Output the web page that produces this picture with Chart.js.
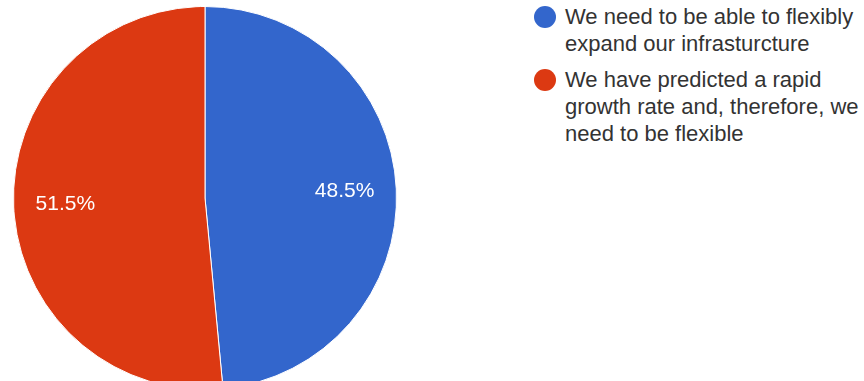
<!DOCTYPE html>
<html>
<head>
<meta charset="utf-8">
<script src="https://cdn.jsdelivr.net/npm/chart.js@4.4.0/dist/chart.umd.min.js"></script>
<style>
  html, body { margin: 0; padding: 0; background: #fff; overflow: hidden; }
  body { width: 864px; height: 381px; position: relative; font-family: "Liberation Sans", Arial, sans-serif; }
  #pieBox { position: absolute; left: 13px; top: 6px; width: 384px; height: 384px; }
  #legend { position: absolute; left: 534px; top: 0; }
  .item { position: absolute; left: 0; white-space: nowrap; }
  .dot { position: absolute; left: 0; width: 22px; height: 22px; border-radius: 50%; }
  .txt { position: absolute; left: 31px; font-size: 22px; line-height: 27px; color: #333; }
</style>
</head>
<body>
<div id="pieBox"><canvas id="pieChart" width="384" height="384"></canvas></div>
<div id="legend"></div>
<script>
// Pie chart
const labels = [
  ['We need to be able to flexibly', 'expand our infrasturcture'],
  ['We have predicted a rapid', 'growth rate and, therefore, we', 'need to be flexible']
];
const shares = [48.5, 51.5];
const colours = ['#3366cc', '#dc3912'];

// percentage text inside each slice
const sliceLabels = {
  id: 'sliceLabels',
  afterDatasetsDraw(chart) {
    const ctx = chart.ctx;
    const meta = chart.getDatasetMeta(0);
    const values = chart.data.datasets[0].data;
    const total = values.reduce((a, b) => a + b, 0);
    ctx.save();
    ctx.fillStyle = '#ffffff';
    ctx.font = '21px "Liberation Sans", Arial, sans-serif';
    ctx.textAlign = 'center';
    ctx.textBaseline = 'middle';
    meta.data.forEach((arc, i) => {
      const p = arc.getProps(['x', 'y', 'startAngle', 'endAngle', 'outerRadius'], true);
      const mid = (p.startAngle + p.endAngle) / 2;
      const d = p.outerRadius * 0.73;
      const text = (values[i] / total * 100).toFixed(1) + '%';
      ctx.fillText(text, p.x + Math.cos(mid) * d, p.y + Math.sin(mid) * d);
    });
    ctx.restore();
  }
};

const data = {
  labels: labels,
  datasets: [{
    data: shares,
    backgroundColor: colours,
    borderColor: '#ffffff',
    borderWidth: 1
  }]
};

let pieChart = new Chart(document.getElementById('pieChart'), {
  type: 'pie',
  data,
  options: {
    responsive: false,
    animation: false,
    layout: { padding: 0 },
    plugins: {
      legend: { display: false },
      tooltip: { enabled: false }
    }
  },
  plugins: [sliceLabels]
});

// legend built from the chart's own labels
const legendTops = [3, 66];
const legend = document.getElementById('legend');
pieChart.data.labels.forEach((lines, i) => {
  const item = document.createElement('div');
  item.className = 'item';
  item.style.top = legendTops[i] + 'px';
  const dot = document.createElement('span');
  dot.className = 'dot';
  dot.style.background = colours[i];
  dot.style.top = '3px';
  const txt = document.createElement('div');
  txt.className = 'txt';
  txt.innerHTML = lines.join('<br>');
  item.appendChild(dot);
  item.appendChild(txt);
  legend.appendChild(item);
});
</script>
</body>
</html>
